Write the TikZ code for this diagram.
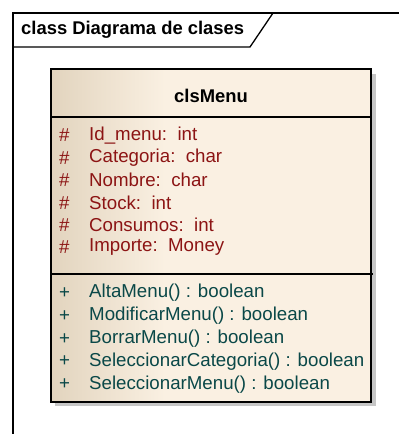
\documentclass[tikz,border=0pt]{standalone}
\usepackage{fontspec}
\setmainfont{Liberation Sans}
\definecolor{atributo}{RGB}{140,20,20}
\definecolor{metodo}{RGB}{10,72,72}
\definecolor{fondoA}{RGB}{226,212,190}
\definecolor{fondoB}{RGB}{250,240,226}
\begin{document}
\begin{tikzpicture}[x=1pt,y=-1pt,
    texto/.style={anchor=west,inner sep=0pt,font=\fontsize{18.7}{20}\selectfont},
    negrita/.style={inner sep=0pt,font=\bfseries\fontsize{18.4}{20}\selectfont}]
    \useasboundingbox (0,0) rectangle (399,434);
    % Marco del diagrama
    \draw[line width=1.3pt] (13,434) -- (13,13) -- (399,13);
    \draw[line width=1.3pt] (273,13) -- (250,47) -- (13,47);
    \node[negrita,anchor=west] (marco) at (21,30) {class Diagrama de clases};
    
    % Sombra y fondo de la clase
    \fill[gray!45] (55,74) rectangle (376,406);
    \fill[fondoB] (51,69) rectangle (371,402);
    \shade[left color=fondoA,right color=fondoB] (51,69) rectangle (165,402);
    \draw[line width=1.3pt] (51,69) rectangle (371,402);
    \draw[line width=1.3pt] (51,117) -- (371,117);
    \draw[line width=1.3pt] (51,274) -- (373,274);
    
    % Nombre de la clase
    \node[negrita] (clase) at (211,96) {clsMenu};
    
    % Atributos
    \foreach \t [count=\i] in {Id\_menu:\ \ int, Categoria:\ \ char, Nombre:\ \ char,
        Stock:\ \ int, Consumos:\ \ int, Importe:\ \ Money}
    {
    \node[texto,text=atributo] (simA\i) at (59,{135.5+22.4*(\i-1)}) {\#};
    \node[texto,text=atributo] (atr\i) at (89,{135.5+22.4*(\i-1)}) {\t};
    }
    
    % Metodos
    \foreach \t [count=\i] in {AltaMenu() : boolean, ModificarMenu() : boolean,
        BorrarMenu() : boolean, SeleccionarCategoria() : boolean, SeleccionarMenu() : boolean}
    {
    \node[texto,text=metodo] (simM\i) at (59,{293+22.8*(\i-1)}) {+};
    \node[texto,text=metodo] (met\i) at (89,{293+22.8*(\i-1)}) {\t};
    }
\end{tikzpicture}
\end{document}
